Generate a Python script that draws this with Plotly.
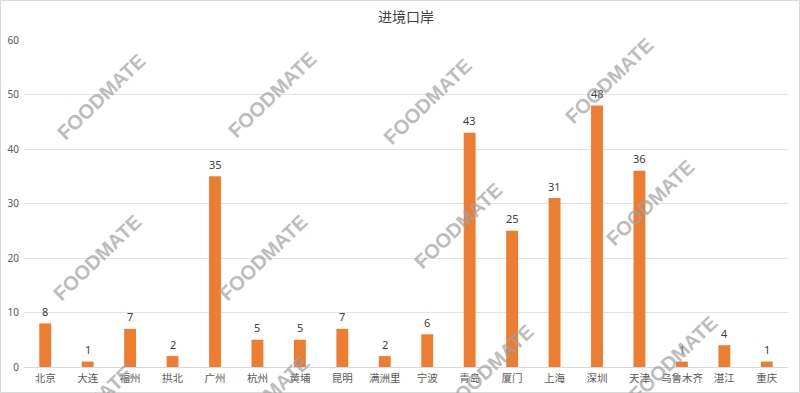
import plotly.graph_objects as go

categories = ["北京", "大连", "福州", "拱北", "广州", "杭州", "黄埔", "昆明", "满洲里",
              "宁波", "青岛", "厦门", "上海", "深圳", "天津", "乌鲁木齐", "湛江", "重庆"]
values = [8, 1, 7, 2, 35, 5, 5, 7, 2, 6, 43, 25, 31, 48, 36, 1, 4, 1]
y_ticks = [0, 10, 20, 30, 40, 50, 60]
title_text = "进境口岸"
watermark = "FOODMATE"

W, H = 800, 393
L, R, T, B = 24, 12, 40, 26
pw, ph = W - L - R, H - T - B

def px(x):
    return (x - L) / pw

def py(y):
    return (H - B - y) / ph

fig = go.Figure()
fig.add_trace(go.Bar(
    x=categories, y=values,
    marker=dict(color="#ED7D31", line=dict(width=0)),
    cliponaxis=False,
))

wm_centers = [(101, 97), (272, 95), (428, 101), (609, 81),
              (97, 258), (263, 258), (458, 226), (650, 203),
              (88, 409), (265, 399), (490, 367), (673, 359)]
annotations = []
for cat, v in zip(categories, values):
    annotations.append(dict(
        text=str(v), x=cat, y=v, xref="x", yref="y", showarrow=False,
        yshift=12, xanchor="center", yanchor="middle",
        font=dict(family="Noto Sans, Arial", size=11, color="#404040"),
    ))
for cx, cy in wm_centers:
    annotations.append(dict(
        text="<b>" + watermark + "</b>", x=px(cx), y=py(cy), xref="paper", yref="paper",
        showarrow=False, textangle=-44,
        font=dict(family="Liberation Sans, Arial", size=20, color="rgba(160,160,160,0.7)"),
        xanchor="center", yanchor="middle",
    ))

fig.update_layout(
    width=W, height=H,
    margin=dict(l=L, r=R, t=T, b=B),
    paper_bgcolor="white", plot_bgcolor="white",
    title=dict(text=title_text, x=0.5, xanchor="center", xref="paper",
               y=1 - 17 / H, yanchor="middle", yref="container",
               font=dict(family="Noto Sans CJK SC", size=14, color="#404040")),
    bargap=0.72,
    showlegend=False,
    annotations=annotations,
    shapes=[dict(type="rect", xref="paper", yref="paper",
                 x0=px(0.5), x1=px(W - 0.5), y0=py(H - 0.5), y1=py(0.5),
                 line=dict(color="#d9d9d9", width=1), layer="above")],
)
fig.update_xaxes(
    tickfont=dict(family="Noto Sans CJK SC", size=10.5, color="#595959"),
    showgrid=False, showline=True, linecolor="#d9d9d9", linewidth=1,
    ticks="", automargin=False, ticklabelstandoff=1,
)
fig.update_yaxes(
    range=[0, 60], tickvals=y_ticks,
    tickfont=dict(family="Noto Sans, Arial", size=10, color="#595959"),
    showgrid=True, gridcolor="#e3e3e3", gridwidth=1, zeroline=False,
    showline=False, ticks="", ticklabelstandoff=4, automargin=False,
)

fig.write_html("out.html", config={"displayModeBar": False},
               post_script="document.body.style.margin='0';document.body.style.overflow='hidden';")
